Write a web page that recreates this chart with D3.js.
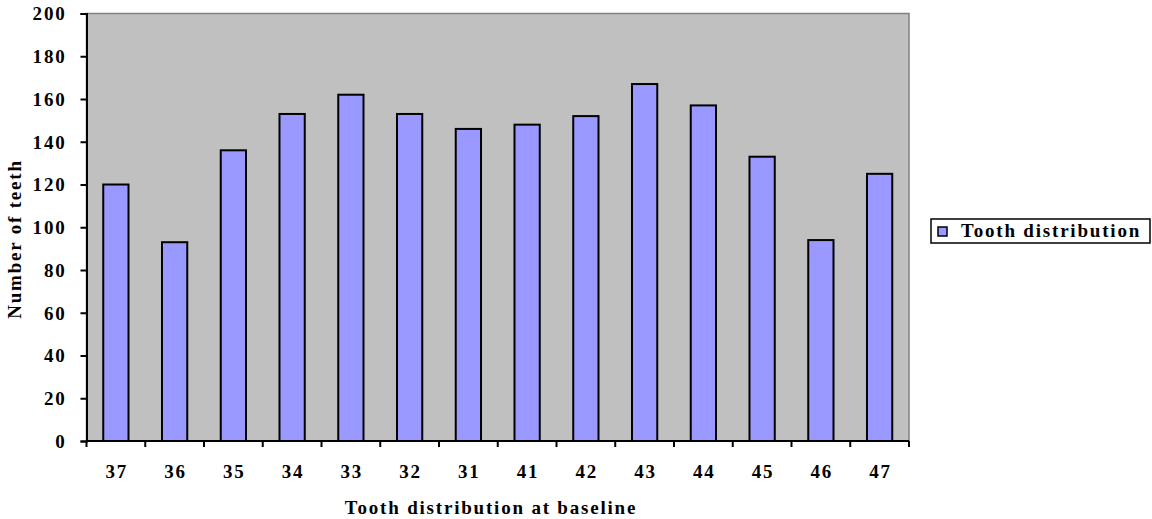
<!DOCTYPE html>
<html>
<head>
<meta charset="utf-8">
<script src="https://cdn.jsdelivr.net/npm/d3@7"></script>
<style>
  body { margin: 0; background: #fff; }
  svg text { font-family: "Liberation Serif", "Times New Roman", serif; font-weight: bold; fill: #000; }
</style>
</head>
<body>
<div id="chart"></div>
<script>
// data
const teeth = ["37", "36", "35", "34", "33", "32", "31", "41", "42", "43", "44", "45", "46", "47"];
const counts = [120, 93, 136, 153, 162, 153, 146, 148, 152, 167, 157, 133, 94, 125];
const yTicks = [0, 20, 40, 60, 80, 100, 120, 140, 160, 180, 200];
const seriesName = "Tooth distribution";

const width = 1152, height = 519;
const plot = {left: 86.5, top: 13.5, right: 909, bottom: 441};
const fontSize = "19px";
const spacing = "1.8px";

const svg = d3.select("#chart").append("svg")
    .attr("width", width)
    .attr("height", height);

const x = d3.scaleBand()
    .domain(teeth)
    .range([plot.left, plot.right])
    .paddingInner(0.57)
    .paddingOuter(0.285);

const y = d3.scaleLinear()
    .domain([0, 200])
    .range([plot.bottom, plot.top]);

// plot background
svg.append("rect")
    .attr("x", plot.left)
    .attr("y", plot.top)
    .attr("width", plot.right - plot.left)
    .attr("height", plot.bottom - plot.top)
    .attr("fill", "#c0c0c0")
    .attr("stroke", "#808080")
    .attr("stroke-width", 1.5);

// bars
svg.selectAll(".bar")
    .data(counts)
    .enter()
    .append("rect")
    .attr("class", "bar")
    .attr("x", (d, i) => x(teeth[i]))
    .attr("y", d => y(d))
    .attr("width", x.bandwidth())
    .attr("height", d => y(0) - y(d))
    .attr("fill", "#9999ff")
    .attr("stroke", "#000")
    .attr("stroke-width", 2);

// y axis
const yAxis = svg.append("g")
    .attr("transform", `translate(${plot.left},0)`)
    .call(d3.axisLeft(y).tickValues(yTicks).tickSize(6).tickPadding(14));
yAxis.select(".domain").attr("stroke", "#000").attr("stroke-width", 2);
yAxis.selectAll(".tick line").attr("stroke", "#000").attr("stroke-width", 2);
yAxis.selectAll(".tick text")
    .attr("dy", "0.34em")
    .style("font-size", fontSize)
    .style("letter-spacing", spacing);

// x axis: labels centred under bars, ticks at category boundaries
const bounds = d3.range(teeth.length + 1).map(i => plot.left + i * (plot.right - plot.left) / teeth.length);
const xAxis = svg.append("g");
xAxis.append("line")
    .attr("x1", plot.left).attr("x2", plot.right)
    .attr("y1", plot.bottom).attr("y2", plot.bottom)
    .attr("stroke", "#000").attr("stroke-width", 2);
xAxis.selectAll(".xtick")
    .data(bounds)
    .enter()
    .append("line")
    .attr("x1", d => d).attr("x2", d => d)
    .attr("y1", plot.bottom).attr("y2", plot.bottom + 6)
    .attr("stroke", "#000").attr("stroke-width", 2);
xAxis.selectAll(".xlabel")
    .data(teeth)
    .enter()
    .append("text")
    .attr("x", d => x(d) + x.bandwidth() / 2 + 1)
    .attr("y", 478)
    .attr("text-anchor", "middle")
    .style("font-size", fontSize)
    .style("letter-spacing", spacing)
    .text(d => d);

// axis titles
svg.append("text")
    .attr("x", 491)
    .attr("y", 514)
    .attr("text-anchor", "middle")
    .style("font-size", fontSize)
    .style("letter-spacing", spacing)
    .text("Tooth distribution at baseline");

svg.append("text")
    .attr("transform", "translate(21,239) rotate(-90)")
    .attr("text-anchor", "middle")
    .style("font-size", fontSize)
    .style("letter-spacing", spacing)
    .text("Number of teeth");

// legend
const legend = svg.append("g").attr("transform", "translate(931,219)");
legend.append("rect")
    .attr("width", 219)
    .attr("height", 24)
    .attr("fill", "#fff")
    .attr("stroke", "#000")
    .attr("stroke-width", 1.5);
legend.append("rect")
    .attr("x", 7).attr("y", 8)
    .attr("width", 9).attr("height", 9)
    .attr("fill", "#9999ff")
    .attr("stroke", "#000")
    .attr("stroke-width", 1.5);
legend.append("text")
    .attr("x", 30)
    .attr("y", 18)
    .style("font-size", fontSize)
    .style("letter-spacing", spacing)
    .text(seriesName);
</script>
</body>
</html>
